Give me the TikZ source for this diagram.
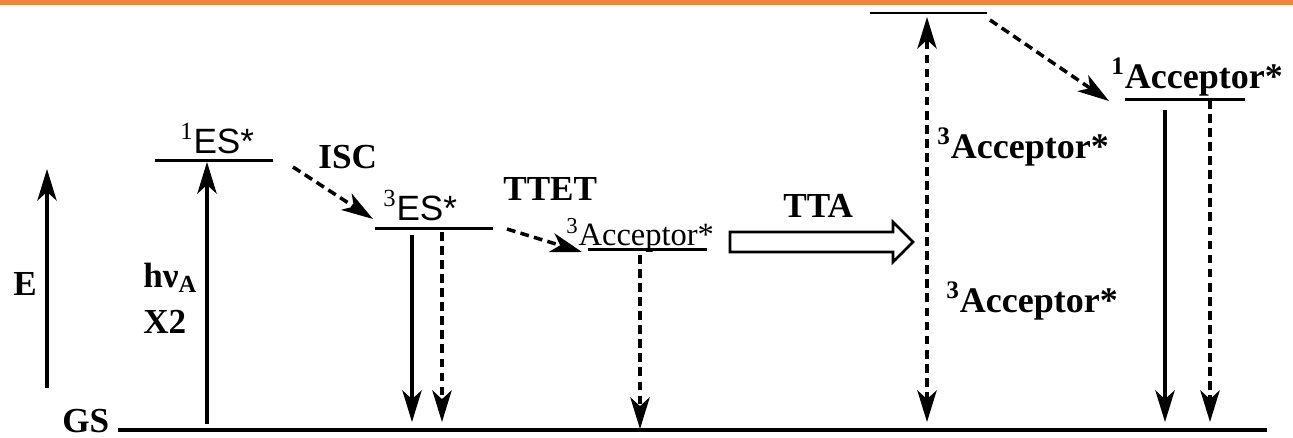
\documentclass[tikz,border=0pt]{standalone}
\usepackage{fontspec}
\setmainfont{Liberation Serif}
\newfontfamily\essans{Liberation Sans}
\usepackage{tikz}
\usetikzlibrary{arrows.meta}
\definecolor{barorange}{RGB}{240,132,60}

\begin{document}
\begin{tikzpicture}[x=0.02cm,y=-0.02cm,
	>={Stealth[length=18pt,width=11pt,inset=5pt]},
	level/.style={line width=1.7pt},
	solidarr/.style={->,line width=1.8pt},
	dasharr/.style={->,line width=2pt,dash pattern=on 5pt off 3pt},
	lbl/.style={anchor=base west,inner sep=0pt,font=\fontsize{20}{24}\selectfont\bfseries},
	acc/.style={anchor=base west,inner sep=0pt,font=\fontsize{20.5}{24}\selectfont\bfseries}]
					\useasboundingbox (0,0) rectangle (1293,437);
					\fill[barorange] (0,0) rectangle (1293,4.5);
					% energy levels
					\coordinate (gsL) at (118,430);
					\coordinate (gsR) at (1267,430);
					\coordinate (es1L) at (155,160);
					\coordinate (es1R) at (273,160);
					\coordinate (es3L) at (375,228);
					\coordinate (es3R) at (493,228);
					\coordinate (ac3L) at (588,249);
					\coordinate (ac3R) at (707,249);
					\coordinate (ttL) at (870,13);
					\coordinate (ttR) at (987,13);
					\coordinate (ac1L) at (1125,99);
					\coordinate (ac1R) at (1245,99);
					\draw[level,line width=1.9pt] (gsL) -- (gsR);
					\draw[level] (es1L) -- (es1R);
					\draw[level] (es3L) -- (es3R);
					\draw[level] (ac3L) -- (ac3R);
					\draw[level] (ttL) -- (ttR);
					\draw[level] (ac1L) -- (ac1R);
					% labels
					\node[lbl] (gs) at (62,432) {GS};
					\node[lbl] (e) at (13,295) {E};
					\node[lbl] (hv) at (143,287) {hν\textsubscript{A}};
					\node[lbl] (x2) at (143,333) {X2};
					\node[anchor=base west,inner sep=0pt,font=\fontsize{20}{24}\selectfont] (es1) at (180,153) {\textsuperscript{1}{\essans ES*}};
					\node[anchor=base west,inner sep=0pt,font=\fontsize{20}{24}\selectfont] (es3) at (383,220) {\textsuperscript{3}{\essans ES*}};
					\node[lbl] (isc) at (318,168) {ISC};
					\node[lbl] (ttet) at (503,200) {TTET};
					\node[lbl] (tta) at (783,217) {TTA};
					\node[anchor=base west,inner sep=0pt,font=\fontsize{18.5}{22}\selectfont] (ac3) at (566,245) {\textsuperscript{3}Acceptor*};
					\node[acc] (ac3a) at (937,158) {\textsuperscript{3}Acceptor*};
					\node[acc] (ac3b) at (946,312) {\textsuperscript{3}Acceptor*};
					\node[acc] (ac1) at (1111,88) {\textsuperscript{1}Acceptor*};
					% arrow ends
					\coordinate (eA) at (47,388);
					\coordinate (eB) at (47,169);
					\coordinate (exA) at (207,424);
					\coordinate (exB) at (207,162);
					\coordinate (iscA) at (293,167);
					\coordinate (iscB) at (373,219);
					\coordinate (ttetA) at (507,229);
					\coordinate (ttetB) at (582,252);
					\coordinate (upA) at (927,422);
					\coordinate (upB) at (927,17);
					\coordinate (ttaA) at (990,20);
					\coordinate (ttaB) at (1109,101);
					\draw[solidarr] (eA) -- (eB);
					\draw[solidarr] (exA) -- (exB);
					\draw[dasharr] (iscA) -- (iscB);
					\draw[dasharr] (ttetA) -- (ttetB);
					\draw[dasharr,<->] (upA) -- (upB);
					\draw[dasharr] (ttaA) -- (ttaB);
					\draw[solidarr] (412,235) -- (412,422);
					\draw[dasharr] (442,232) -- (442,422);
					\draw[dasharr] (640,255) -- (640,429);
					\draw[solidarr] (1165,110) -- (1165,422);
					\draw[dasharr] (1210,100) -- (1210,422);
					% TTA block arrow
					\draw[line width=1.5pt,fill=white] (730,232) -- (893,232) -- (893,222) -- (913,242) -- (893,262) -- (893,252) -- (730,252) -- cycle;
					\end{tikzpicture}
\end{document}
